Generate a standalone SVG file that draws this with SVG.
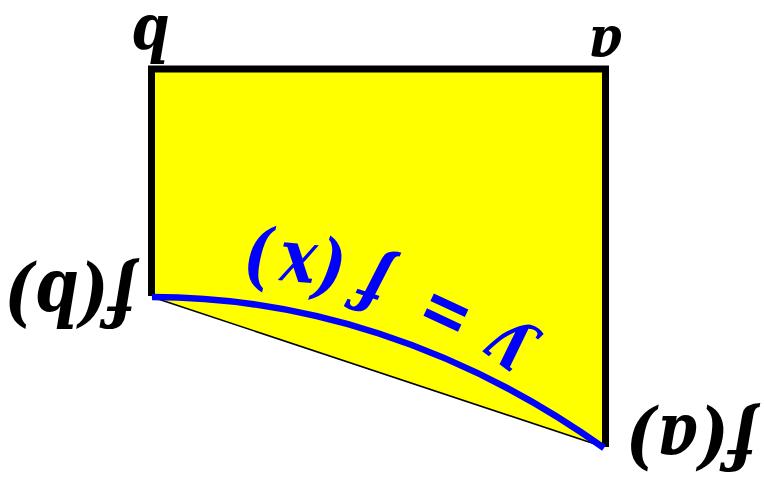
<svg xmlns="http://www.w3.org/2000/svg" width="764" height="485" viewBox="0 0 764 485">
  <style>
    .lbl { font-family: "DejaVu Serif", "Liberation Serif", serif; font-weight: bold; font-style: italic; fill: #000000; text-anchor: middle; }
    .blue { font-family: "DejaVu Serif", "Liberation Serif", serif; font-weight: bold; font-style: italic; fill: #0000ff; font-size: 64px; text-anchor: middle; }
  </style>
  <rect width="764" height="485" fill="#ffffff"/>
  <g id="region">
    <polygon points="151.5,69 605.5,69 605.5,447 151.5,297" fill="#ffff00"/>
  </g>
  <g id="connectors" fill="none">
    <line id="chord" x1="152" y1="297" x2="604" y2="447" stroke="#000000" stroke-width="1.6"/>
    <polyline id="frame" points="151.5,296 151.5,69 605.5,69 605.5,447" stroke="#000000" stroke-width="7" stroke-linejoin="miter"/>
    <path id="curve" d="M152,297 C300,297 458,344 604,448" stroke="#0000ff" stroke-width="6.5"/>
  </g>
  <g id="label-b">
    <text class="lbl" font-size="58" transform="translate(150,15.5) rotate(180) scale(0.95,1.1)">b</text>
  </g>
  <g id="label-a">
    <text class="lbl" font-size="54" transform="translate(605,27) rotate(180) scale(1,1.05)">a</text>
  </g>
  <g id="label-fb">
    <text class="lbl" font-size="66" transform="translate(70,272.4) rotate(180) scale(0.96,1.12)">f(b)</text>
  </g>
  <g id="label-fa">
    <text class="lbl" font-size="66" transform="translate(691,416) rotate(180) scale(0.98,1.1)">f(a)</text>
  </g>
  <g id="label-curve">
    <text class="blue" transform="translate(520.5,334.5) rotate(217) scale(0.92,1.1)">y</text>
    <text class="blue" transform="translate(455.7,291.7) rotate(205) scale(0.95,1.15)">=</text>
    <text class="blue" transform="translate(381.2,261) rotate(198) scale(0.95,1.15)">f</text>
    <text class="blue" transform="translate(334,247.7) rotate(190) scale(0.95,1.15)">(</text>
    <text class="blue" transform="translate(299.7,243.6) rotate(185) scale(0.95,1.15)">x</text>
    <text class="blue" transform="translate(259.2,236.3) rotate(183) scale(0.95,1.15)">)</text>
  </g>
</svg>
